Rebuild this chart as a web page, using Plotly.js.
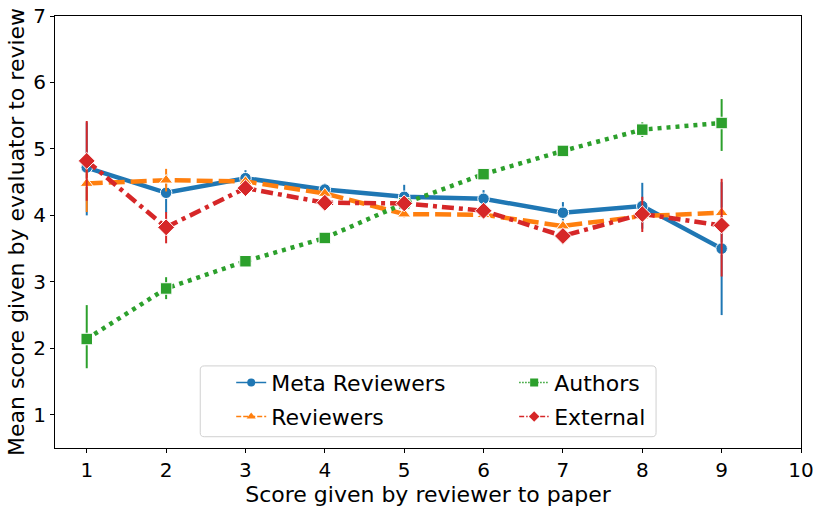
<!DOCTYPE html>
<html>
<head>
<meta charset="utf-8">
<script src="https://cdn.plot.ly/plotly-3.0.1.min.js"></script>
<style>html,body{margin:0;padding:0;background:#fff;}#chart{width:822px;height:510px;}</style>
</head>
<body>
<div id="chart"></div>
<script>
const xScores = [1, 2, 3, 4, 5, 6, 7, 8, 9];
const xTicks = [1, 2, 3, 4, 5, 6, 7, 8, 9, 10];
const yTicks = [1, 2, 3, 4, 5, 6, 7];

const metaMean = [4.72, 4.34, 4.56, 4.39, 4.28, 4.25, 4.04, 4.14, 3.50];
const metaHi   = [5.40, 4.62, 4.68, 4.48, 4.46, 4.38, 4.20, 4.49, 4.50];
const metaLo   = [4.00, 4.04, 4.44, 4.30, 4.12, 4.12, 3.88, 3.80, 2.50];

const revMean = [4.48, 4.53, 4.51, 4.33, 4.02, 4.01, 3.84, 3.99, 4.04];
const revHi   = [4.90, 4.70, 4.58, 4.38, 4.07, 4.06, 3.89, 4.05, 4.11];
const revLo   = [4.05, 4.36, 4.44, 4.28, 3.97, 3.96, 3.79, 3.93, 3.97];

const authMean = [2.14, 2.90, 3.31, 3.66, 4.18, 4.62, 4.97, 5.29, 5.39];
const authHi   = [2.65, 3.07, 3.36, 3.71, 4.25, 4.68, 5.02, 5.40, 5.75];
const authLo   = [1.70, 2.74, 3.26, 3.61, 4.11, 4.56, 4.92, 5.18, 4.97];

const extMean = [4.82, 3.82, 4.41, 4.19, 4.18, 4.07, 3.69, 4.02, 3.85];
const extHi   = [5.42, 4.05, 4.50, 4.26, 4.26, 4.13, 3.77, 4.28, 4.55];
const extLo   = [4.22, 3.58, 4.32, 4.12, 4.10, 4.01, 3.61, 3.75, 3.08];

const seriesNames = ['Meta Reviewers', 'Reviewers', 'Authors', 'External'];
const colors = ['#1f77b4', '#ff7f0e', '#2ca02c', '#d62728'];
const dashes = ['solid', '16px,6px', '4px,5px', '12px,5px,4px,5px'];
const legendDashes = ['solid', '5px,2px', '1.5px,1.5px', '5px,2px,1.5px,2px'];
const symbols = ['circle', 'triangle-up', 'square', 'diamond'];
const means = [metaMean, revMean, authMean, extMean];
const his = [metaHi, revHi, authHi, extHi];
const los = [metaLo, revLo, authLo, extLo];
const legendIds = ['legend', 'legend3', 'legend2', 'legend4'];

const font = 'DejaVu Sans, sans-serif';
const traces = [];
for (let i = 0; i < 4; i++) {
  const m = means[i];
  traces.push({
    x: xScores, y: m, type: 'scatter', mode: 'lines+markers', showlegend: false,
    line: {color: colors[i], width: 4.5, dash: dashes[i]},
    marker: {symbol: symbols[i], size: i === 3 ? 13 : 11.5, color: colors[i], line: {color: '#fff', width: 1}},
    error_y: {type: 'data', symmetric: false,
      array: his[i].map((h, k) => h - m[k]),
      arrayminus: los[i].map((l, k) => m[k] - l),
      color: colors[i], thickness: 2, width: 0}
  });
}
for (let i = 0; i < 4; i++) {
  traces.push({
    x: [null], y: [null], type: 'scatter', mode: 'lines+markers', name: seriesNames[i],
    legend: legendIds[i],
    line: {color: colors[i], width: 1.5, dash: legendDashes[i]},
    marker: {symbol: symbols[i], size: 8, color: colors[i]}
  });
}

const legBase = {font: {family: font, size: 22, color: '#000'}, bgcolor: 'rgba(0,0,0,0)', borderwidth: 0,
  xanchor: 'left', yanchor: 'middle', itemwidth: 30};

// rounded legend frame (paper coordinates)
const bx0 = 0.1947, bx1 = 0.8057, by0 = 0.0261, by1 = 0.190, rx = 0.0054, ry = 0.0092;
const framePath = `M ${bx0 + rx} ${by0} L ${bx1 - rx} ${by0} Q ${bx1} ${by0} ${bx1} ${by0 + ry} ` +
  `L ${bx1} ${by1 - ry} Q ${bx1} ${by1} ${bx1 - rx} ${by1} L ${bx0 + rx} ${by1} Q ${bx0} ${by1} ${bx0} ${by1 - ry} ` +
  `L ${bx0} ${by0 + ry} Q ${bx0} ${by0} ${bx0 + rx} ${by0} Z`;

const layout = {
  width: 822, height: 510,
  margin: {l: 54.7, r: 21, t: 15.7, b: 61.7},
  paper_bgcolor: '#fff', plot_bgcolor: '#fff',
  font: {family: font, size: 20, color: '#000'},
  xaxis: {
    range: [0.6, 10], tickvals: xTicks, ticktext: xTicks.map(String),
    ticks: 'outside', ticklen: 4, tickwidth: 1, tickcolor: '#000',
    showline: true, linecolor: '#000', linewidth: 1, mirror: true,
    showgrid: false, zeroline: false,
    tickfont: {family: font, size: 20},
    title: {text: 'Score given by reviewer to paper', font: {family: font, size: 22}, standoff: 5}
  },
  yaxis: {
    range: [0.5, 7], tickvals: yTicks, ticktext: yTicks.map(String),
    ticks: 'outside', ticklen: 4, tickwidth: 1, tickcolor: '#000',
    showline: true, linecolor: '#000', linewidth: 1, mirror: true,
    showgrid: false, zeroline: false,
    tickfont: {family: font, size: 20},
    title: {text: 'Mean score given by evaluator to review', font: {family: font, size: 22}, standoff: 2}
  },
  shapes: [{type: 'path', xref: 'paper', yref: 'paper', path: framePath,
    line: {color: '#d0d0d0', width: 1}, fillcolor: 'rgba(255,255,255,0.8)', layer: 'above'}],
  legend: Object.assign({}, legBase, {x: 0.2362, y: 0.151}),
  legend3: Object.assign({}, legBase, {x: 0.2362, y: 0.0724}),
  legend2: Object.assign({}, legBase, {x: 0.6155, y: 0.151}),
  legend4: Object.assign({}, legBase, {x: 0.6155, y: 0.0724})
};

Plotly.newPlot('chart', traces, layout, {displayModeBar: false, staticPlot: true});
</script>
</body>
</html>
